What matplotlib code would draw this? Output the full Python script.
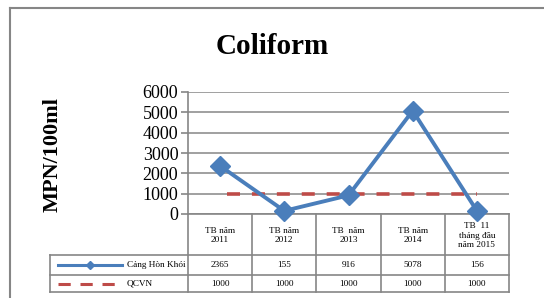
import matplotlib
matplotlib.use("Agg")
import matplotlib.pyplot as plt
from matplotlib.transforms import Affine2D, blended_transform_factory
from matplotlib.lines import Line2D

categories = ["TB năm\n2011", "TB năm\n2012", "TB  năm\n2013", "TB năm\n2014", "TB  11\ntháng đầu\nnăm 2015"]
series_names = ["Cảng Hòn Khói", "QCVN"]
hon_khoi = [2365, 155, 916, 5078, 156]
qcvn = [1000, 1000, 1000, 1000, 1000]
yticks = [0, 1000, 2000, 3000, 4000, 5000, 6000]

W, H = 544, 298
plt.rcParams['font.family'] = ['Liberation Serif', 'DejaVu Serif']
fig = plt.figure(figsize=(W / 100, H / 100), dpi=100)
pxT = Affine2D().scale(1 / W, -1 / H).translate(0, 1) + fig.transFigure

left, right, top, bottom = 188, 509, 92, 214
ax = fig.add_axes([left / W, 1 - bottom / H, (right - left) / W, (bottom - top) / H])

blue = '#4a7ebb'
red = '#be4b48'
gray = '#868686'

x = list(range(len(categories)))
ax.plot(x, qcvn, color=red, lw=2.6, ls=(4.96, (3.6, 3.3)), zorder=3)
ax.plot(x, hon_khoi, color=blue, lw=2.8, marker='D', markersize=10, zorder=4, clip_on=False)

ax.set_xlim(-0.5, len(categories) - 0.5)
ax.set_ylim(0, 6000)
ax.set_yticks(yticks)
ax.set_yticklabels([str(v) for v in yticks], fontsize=13)
ax.set_xticks([])
ax.grid(axis='y', color=gray, lw=1.1)
ax.set_axisbelow(True)
for s in ['top', 'right']:
    ax.spines[s].set_visible(False)
ax.spines['left'].set_color(gray)
ax.spines['left'].set_linewidth(1.2)
ax.spines['bottom'].set_color(gray)
ax.spines['bottom'].set_linewidth(1.2)
ax.tick_params(axis='y', length=5, color=gray, width=1.2, pad=2)

# title and ylabel
fig.text(272, 47, "Coliform", transform=pxT, ha='center', va='center',
         fontsize=21, fontweight='bold')
fig.text(53, 155, "MPN/100ml", transform=pxT, ha='center', va='center',
         fontsize=16, fontweight='bold', rotation=90)

# data table
bt = blended_transform_factory(ax.transData, pxT)
row_y = [214, 255, 275, 292]
tl = 50
lc = gray
for i in range(len(categories) + 1):
    fig.add_artist(Line2D([i - 0.5, i - 0.5], [row_y[0], row_y[-1]], transform=bt, color=lc, lw=1.2))
for yy in row_y[1:]:
    fig.add_artist(Line2D([tl, right], [yy, yy], transform=pxT, color=lc, lw=1.2))
fig.add_artist(Line2D([tl, tl], [row_y[1], row_y[-1]], transform=pxT, color=lc, lw=1.2))

fs = 6.7
for i, c in enumerate(categories):
    ax.text(i, (row_y[0] + row_y[1]) / 2 + 1, c, transform=bt, ha='center', va='center',
            fontsize=fs, linespacing=1.2)
for r, vals in enumerate([hon_khoi, qcvn]):
    yc = (row_y[r + 1] + row_y[r + 2]) / 2
    for i, v in enumerate(vals):
        ax.text(i, yc, str(v), transform=bt, ha='center', va='center', fontsize=fs)
    fig.text(127, yc, series_names[r], transform=pxT, ha='left', va='center', fontsize=fs)

yc0 = (row_y[1] + row_y[2]) / 2
fig.add_artist(Line2D([58, 122], [yc0, yc0], transform=pxT, color=blue, lw=2.2))
fig.add_artist(Line2D([90], [yc0], transform=pxT, color=blue, marker='D', markersize=4.5, lw=0))
yc1 = (row_y[2] + row_y[3]) / 2
fig.add_artist(Line2D([58, 122], [yc1, yc1], transform=pxT, color=red, lw=2.2, ls=(0, (4.0, 3.2))))

# outer frame
fig.add_artist(Line2D([10, 10], [8, 300], transform=pxT, color=gray, lw=1.5))
fig.add_artist(Line2D([10, 546], [8, 8], transform=pxT, color=gray, lw=1.5))

fig.savefig("out.png", dpi=100)
